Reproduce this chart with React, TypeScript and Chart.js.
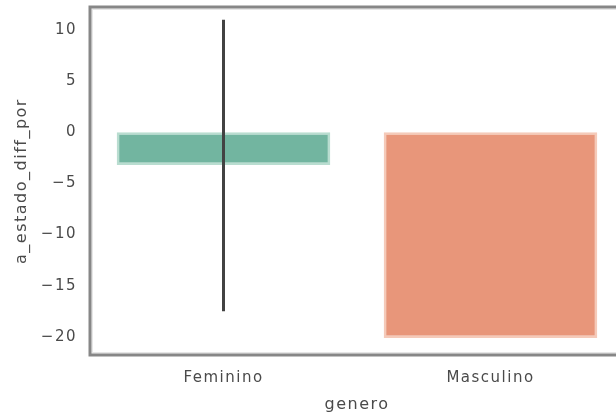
import React, { useEffect, useRef } from "react";
import { Chart, registerables } from "chart.js";

Chart.register(...registerables);

// Mean difference per gender, with its confidence interval
const categories = ["Feminino", "Masculino"];
const values = [-3.2, -20.1];
const ciLow: (number | null)[] = [-17.5, null];
const ciHigh: (number | null)[] = [11.0, null];
const yTickValues = [10, 5, 0, -5, -10, -15, -20];

const barColors = ["#72b5a0", "#e8967a"];
const barEdges = ["#b9ddd0", "#f5cab9"];

const FONT = "'DejaVu Sans', sans-serif";
const TEXT = "#4a4a4a";
const SPACING = "1.5px";

const spacingPlugin = {
  id: "letterSpacing",
  beforeUpdate(chart: any) {
    chart.ctx.letterSpacing = SPACING;
  },
  beforeLayout(chart: any) {
    chart.ctx.letterSpacing = SPACING;
  },
  beforeDraw(chart: any) {
    chart.ctx.letterSpacing = SPACING;
  },
};

const framePlugin = {
  id: "frame",
  afterDatasetsDraw(chart: any) {
    const { ctx, chartArea } = chart;
    const { left, right, top, bottom } = chartArea;
    ctx.save();
    // soft inner edge beside each spine
    ctx.strokeStyle = "#e6e6e6";
    ctx.lineWidth = 1.5;
    ctx.beginPath();
    ctx.moveTo(left + 2, top + 2.2);
    ctx.lineTo(right, top + 2.2);
    ctx.moveTo(left + 2.2, top + 2);
    ctx.lineTo(left + 2.2, bottom - 2);
    ctx.moveTo(left + 2, bottom - 2.2);
    ctx.lineTo(right, bottom - 2.2);
    ctx.stroke();
    ctx.strokeStyle = "#878787";
    ctx.lineWidth = 3;
    ctx.beginPath();
    ctx.moveTo(right, top);
    ctx.lineTo(left, top);
    ctx.lineTo(left, bottom);
    ctx.lineTo(right, bottom);
    ctx.stroke();
    ctx.restore();
  },
};

const errorBarPlugin = {
  id: "errorBars",
  afterDatasetsDraw(chart: any) {
    const { ctx } = chart;
    const xScale = chart.scales.x;
    const yScale = chart.scales.y;
    ctx.save();
    ctx.strokeStyle = "#424242";
    ctx.lineWidth = 3;
    ctx.lineCap = "butt";
    categories.forEach((_, i) => {
      const lo = ciLow[i];
      const hi = ciHigh[i];
      if (lo == null || hi == null) return;
      const x = xScale.getPixelForValue(i);
      ctx.beginPath();
      ctx.moveTo(x, yScale.getPixelForValue(hi));
      ctx.lineTo(x, yScale.getPixelForValue(lo));
      ctx.stroke();
    });
    ctx.restore();
  },
};

export default function App() {
  const canvasRef = useRef<HTMLCanvasElement | null>(null);

  useEffect(() => {
    if (!canvasRef.current) return;
    const chart = new Chart(canvasRef.current, {
      type: "bar",
      data: {
        labels: categories,
        datasets: [
          {
            data: values,
            backgroundColor: barColors,
            borderColor: barEdges,
            borderWidth: 2.5,
            borderSkipped: false,
            barPercentage: 0.8,
            categoryPercentage: 1,
          },
        ],
      },
      options: {
        responsive: false,
        animation: false,
        layout: { padding: { left: 0, right: 16, top: 7, bottom: 0 } },
        plugins: {
          legend: { display: false },
          tooltip: { enabled: false },
        },
        scales: {
          x: {
            type: "category",
            offset: true,
            grid: { display: false, drawTicks: false },
            border: { display: false },
            ticks: {
              color: TEXT,
              font: { family: FONT, size: 15 },
              padding: 14,
            },
            title: {
              display: true,
              text: "genero",
              color: TEXT,
              font: { family: FONT, size: 16 },
              padding: { top: 0, bottom: 2 },
            },
            afterFit(scale: any) {
              scale.height = 61;
              scale.paddingLeft = 0;
              scale.paddingRight = 0;
            },
          },
          y: {
            type: "linear",
            min: -21.77,
            max: 12.25,
            grid: { display: false, drawTicks: false },
            border: { display: false },
            ticks: {
              stepSize: 5,
              includeBounds: false,
              color: TEXT,
              font: { family: FONT, size: 15 },
              padding: 13,
              callback: (v: any) =>
                yTickValues.includes(Number(v)) ? String(v).replace("-", "\u2212") : "",
            },
            title: {
              display: true,
              text: "a_estado_diff_por",
              color: TEXT,
              font: { family: FONT, size: 16 },
              padding: { top: 12, bottom: 0 },
            },
            afterFit(scale: any) {
              scale.width = 90;
              scale.paddingTop = 0;
              scale.paddingBottom = 0;
            },
          },
        },
      },
      plugins: [spacingPlugin, framePlugin, errorBarPlugin],
    });
    return () => chart.destroy();
  }, []);

  return (
    <div
      style={{
        position: "fixed",
        left: 0,
        top: 0,
        width: 616,
        height: 416,
        overflow: "hidden",
        background: "#ffffff",
      }}
    >
      <canvas
        ref={canvasRef}
        width={640}
        height={416}
        style={{ display: "block", width: 640, height: 416 }}
      />
    </div>
  );
}
